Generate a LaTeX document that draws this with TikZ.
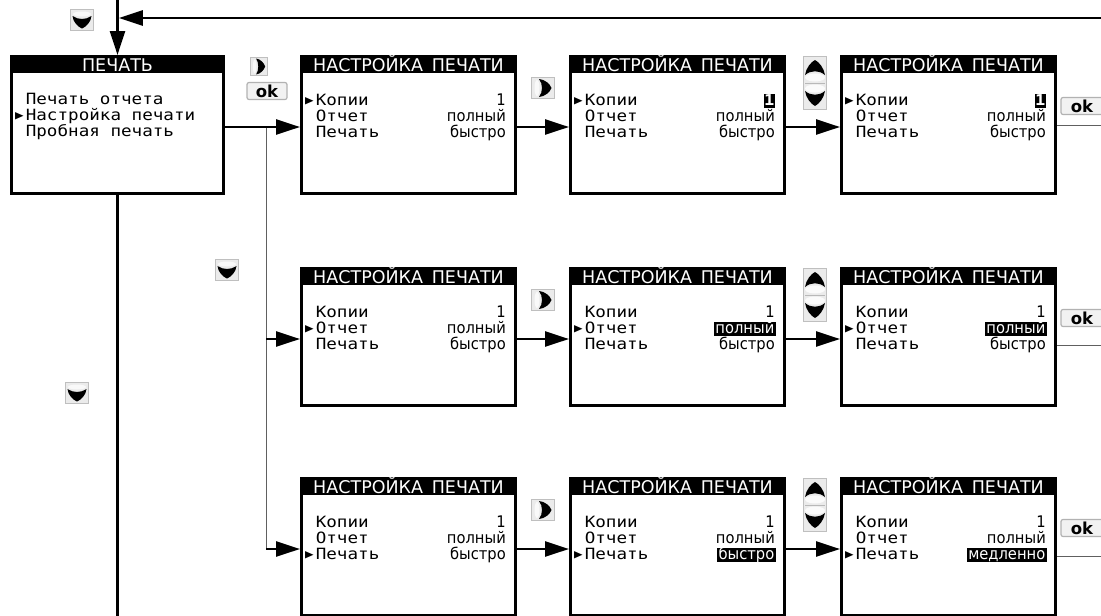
\documentclass[tikz,border=0pt]{standalone}
\usepackage{fontspec}
\setmainfont{DejaVu Sans}
\newfontfamily\menufont[FakeStretch=1.135]{DejaVu Sans Mono}
\newfontfamily\valfont[FakeStretch=0.92]{DejaVu Sans}
\usetikzlibrary{arrows.meta}
\newcommand\ptrY{\makebox[10.6pt][l]{\raisebox{0.3pt}{\fontsize{12.5pt}{12pt}\selectfont ▶}}}
\newcommand\ptrN{\makebox[10.6pt][l]{}}
\newcommand\scr[3]{%
  \node[scrbox] (#1) at (#2+108.5,#3+70) {};
  \fill[black] (#2,#3) rectangle (#2+217,#3+18);
  \node[ttl] (#1t) at (#2+108.5,#3+16.5) {НАСТРОЙКА\hspace{0.5em}ПЕЧАТИ};
}
\newcommand\itm[6]{%
  \node[item] (#1a) at (#2+5,#3+50) {#4Копии};
  \node[item] (#1b) at (#2+5,#3+66) {#5Отчет};
  \node[item] (#1c) at (#2+5,#3+82) {#6Печать};
}
\tikzset{
  downic/.pic={
    \fill[gray!16] (-12,-11) rectangle (12,11);
    \draw[gray!50, line width=1.2pt] (-11.4,-10.4) rectangle (11.4,10.4);
    \fill[gray!5] (0,-6) ellipse [x radius=9, y radius=2.5];
    \fill[black] (-9.5,-4) .. controls (-4,0) and (4,0) .. (9.5,-4) .. controls (9,2) and (4,7) .. (0,8.5) .. controls (-4,7) and (-9,2) .. (-9.5,-4) -- cycle;
  },
  rightic/.pic={
    \fill[gray!16] (-12,-11) rectangle (12,11);
    \draw[gray!50, line width=1.2pt] (-11.4,-10.4) rectangle (11.4,10.4);
    \fill[gray!5] (-6,0) ellipse [x radius=2.5, y radius=8];
    \fill[black] (-4,-9) .. controls (0,-4) and (0,4) .. (-4,9) .. controls (2,8.5) and (7,4) .. (8.5,0) .. controls (7,-4) and (2,-8.5) .. (-4,-9) -- cycle;
  },
  updownic/.pic={
    \fill[gray!16] (-12,-27) rectangle (12,27);
    \draw[gray!50, line width=1.2pt] (-11.4,-26.4) rectangle (11.4,26.4);
    \fill[gray!3] (0,-5.5) ellipse [x radius=10, y radius=4];
    \fill[gray!3] (0,5.5) ellipse [x radius=10, y radius=4];
    \draw[gray!55, line width=0.8pt] (-10,0) -- (10,0);
    \fill[black] (-10,-8) .. controls (-4,-13) and (4,-13) .. (10,-8) .. controls (9,-15) and (4,-21) .. (0,-23) .. controls (-4,-21) and (-9,-15) .. (-10,-8) -- cycle;
    \fill[black] (-10,8) .. controls (-4,13) and (4,13) .. (10,8) .. controls (9,15) and (4,21) .. (0,23) .. controls (-4,21) and (-9,15) .. (-10,8) -- cycle;
  },
}
\begin{document}
\begin{tikzpicture}[x=1pt,y=-1pt,
  scrbox/.style={draw=black, line width=3pt, minimum width=214pt, minimum height=137pt, inner sep=0pt, fill=white},
  ttl/.style={text=white, font=\fontsize{17.5pt}{18pt}\selectfont, anchor=base, inner sep=0pt},
  item/.style={font=\menufont\fontsize{15.5pt}{16pt}\selectfont, anchor=base west, inner sep=0pt},
  val/.style={font=\valfont\fontsize{16pt}{16pt}\selectfont, anchor=base east, inner sep=0pt},
  hval/.style={val, fill=black, text=white, inner xsep=1.5pt, inner ysep=0pt, text height=11.5pt, text depth=3pt},
  hone/.style={hval, font=\menufont\bfseries\fontsize{15pt}{16pt}\selectfont, inner xsep=0.5pt},
  flow/.style={line width=2.6pt, -{Triangle[length=24pt,width=15pt]}},
  bar/.style={line width=2.6pt},
  link/.style={line width=1pt, draw=gray!75!black},
  okbtn/.style={draw=gray!60, fill=gray!10, rounded corners=2pt, line width=1.2pt, minimum height=17pt, inner sep=0pt, font=\bfseries\fontsize{16.5pt}{16pt}\selectfont},
]
\useasboundingbox (0,0) rectangle (1101,616);
\clip (0,0) rectangle (1101,616);

% main screen
\node[scrbox, minimum width=212pt] (main) at (117.5,125) {};
\fill[black] (10,55) rectangle (225,73);
\node[ttl] (maint) at (117.5,71) {ПЕЧАТЬ};
\node[item] (m1) at (15,104) {\ptrN Печать отчета};
\node[item] (m2) at (15,120) {\ptrY Настройка печати};
\node[item] (m3) at (15,136) {\ptrN Пробная печать};

% row 1
\scr{b11}{300}{55}
\itm{b11}{300}{55}{\ptrY}{\ptrN}{\ptrN}
\node[val] (b11v1) at (506,105) {1};
\node[val] (b11v2) at (506,121) {полный};
\node[val] (b11v3) at (506,137) {быстро};
\scr{b12}{569}{55}
\itm{b12}{569}{55}{\ptrY}{\ptrN}{\ptrN}
\node[hone] (b12v1) at (775,105) {1};
\node[val] (b12v2) at (775,121) {полный};
\node[val] (b12v3) at (775,137) {быстро};
\scr{b13}{840}{55}
\itm{b13}{840}{55}{\ptrY}{\ptrN}{\ptrN}
\node[hone] (b13v1) at (1046,105) {1};
\node[val] (b13v2) at (1046,121) {полный};
\node[val] (b13v3) at (1046,137) {быстро};

% row 2
\scr{b21}{300}{267}
\itm{b21}{300}{267}{\ptrN}{\ptrY}{\ptrN}
\node[val] (b21v1) at (506,317) {1};
\node[val] (b21v2) at (506,333) {полный};
\node[val] (b21v3) at (506,349) {быстро};
\scr{b22}{569}{267}
\itm{b22}{569}{267}{\ptrN}{\ptrY}{\ptrN}
\node[val] (b22v1) at (775,317) {1};
\node[hval] (b22v2) at (776,333) {полный};
\node[val] (b22v3) at (775,349) {быстро};
\scr{b23}{840}{267}
\itm{b23}{840}{267}{\ptrN}{\ptrY}{\ptrN}
\node[val] (b23v1) at (1046,317) {1};
\node[hval] (b23v2) at (1047,333) {полный};
\node[val] (b23v3) at (1046,349) {быстро};

% row 3
\scr{b31}{300}{477}
\itm{b31}{300}{477}{\ptrN}{\ptrN}{\ptrY}
\node[val] (b31v1) at (506,527) {1};
\node[val] (b31v2) at (506,543) {полный};
\node[val] (b31v3) at (506,559) {быстро};
\scr{b32}{569}{477}
\itm{b32}{569}{477}{\ptrN}{\ptrN}{\ptrY}
\node[val] (b32v1) at (775,527) {1};
\node[val] (b32v2) at (775,543) {полный};
\node[hval] (b32v3) at (776,559) {быстро};
\scr{b33}{840}{477}
\itm{b33}{840}{477}{\ptrN}{\ptrN}{\ptrY}
\node[val] (b33v1) at (1046,527) {1};
\node[val] (b33v2) at (1046,543) {полный};
\node[hval] (b33v3) at (1047,559) {медленно};

% coordinates
\coordinate (topV) at (117.5,0);
\coordinate (botV) at (117.5,616);
\coordinate (fbR) at (1101,18);
\coordinate (fbL) at (118.8,18);
\coordinate (r1) at (0,127);
\coordinate (r2) at (0,339);
\coordinate (r3) at (0,549);
\coordinate (j1) at (266,127);
\coordinate (e1) at (1101,125);
\coordinate (e2) at (1101,345);
\coordinate (e3) at (1101,556);

% connectors
\draw[link] (j1) -- (j1 |- r3);
\draw[bar] (topV) -- (topV |- fbR);
\draw[flow] (topV |- fbR) -- (main.north);
\draw[flow] (fbR) -- (fbL);
\draw[bar] (main.south) -- (botV);
\draw[flow] (main.east |- r1) -- (b11.west |- r1);
\draw[flow] (j1 |- r2) -- (b21.west |- r2);
\draw[flow] (j1 |- r3) -- (b31.west |- r3);
\draw[flow] (b11.east |- r1) -- (b12.west |- r1);
\draw[flow] (b12.east |- r1) -- (b13.west |- r1);
\draw[flow] (b21.east |- r2) -- (b22.west |- r2);
\draw[flow] (b22.east |- r2) -- (b23.west |- r2);
\draw[flow] (b31.east |- r3) -- (b32.west |- r3);
\draw[flow] (b32.east |- r3) -- (b33.west |- r3);
\draw[link] (b13.east |- e1) -- (e1);
\draw[link] (b23.east |- e2) -- (e2);
\draw[link] (b33.east |- e3) -- (e3);

% buttons
\pic at (82,20) {downic};
\pic at (227,270) {downic};
\pic at (77,393) {downic};
\pic[xscale=0.72, yscale=0.88] at (259,66.5) {rightic};
\node[okbtn, minimum width=40pt] (ok0) at (267,91) {ok};
\pic at (543,88) {rightic};
\pic at (543,300) {rightic};
\pic at (543,510) {rightic};
\pic at (815,83) {updownic};
\pic at (815,295) {updownic};
\pic at (815,505) {updownic};
\node[okbtn, minimum width=42pt] (ok1) at (1082,106) {ok};
\node[okbtn, minimum width=42pt] (ok2) at (1082,318) {ok};
\node[okbtn, minimum width=42pt] (ok3) at (1082,528) {ok};
\end{tikzpicture}
\end{document}
